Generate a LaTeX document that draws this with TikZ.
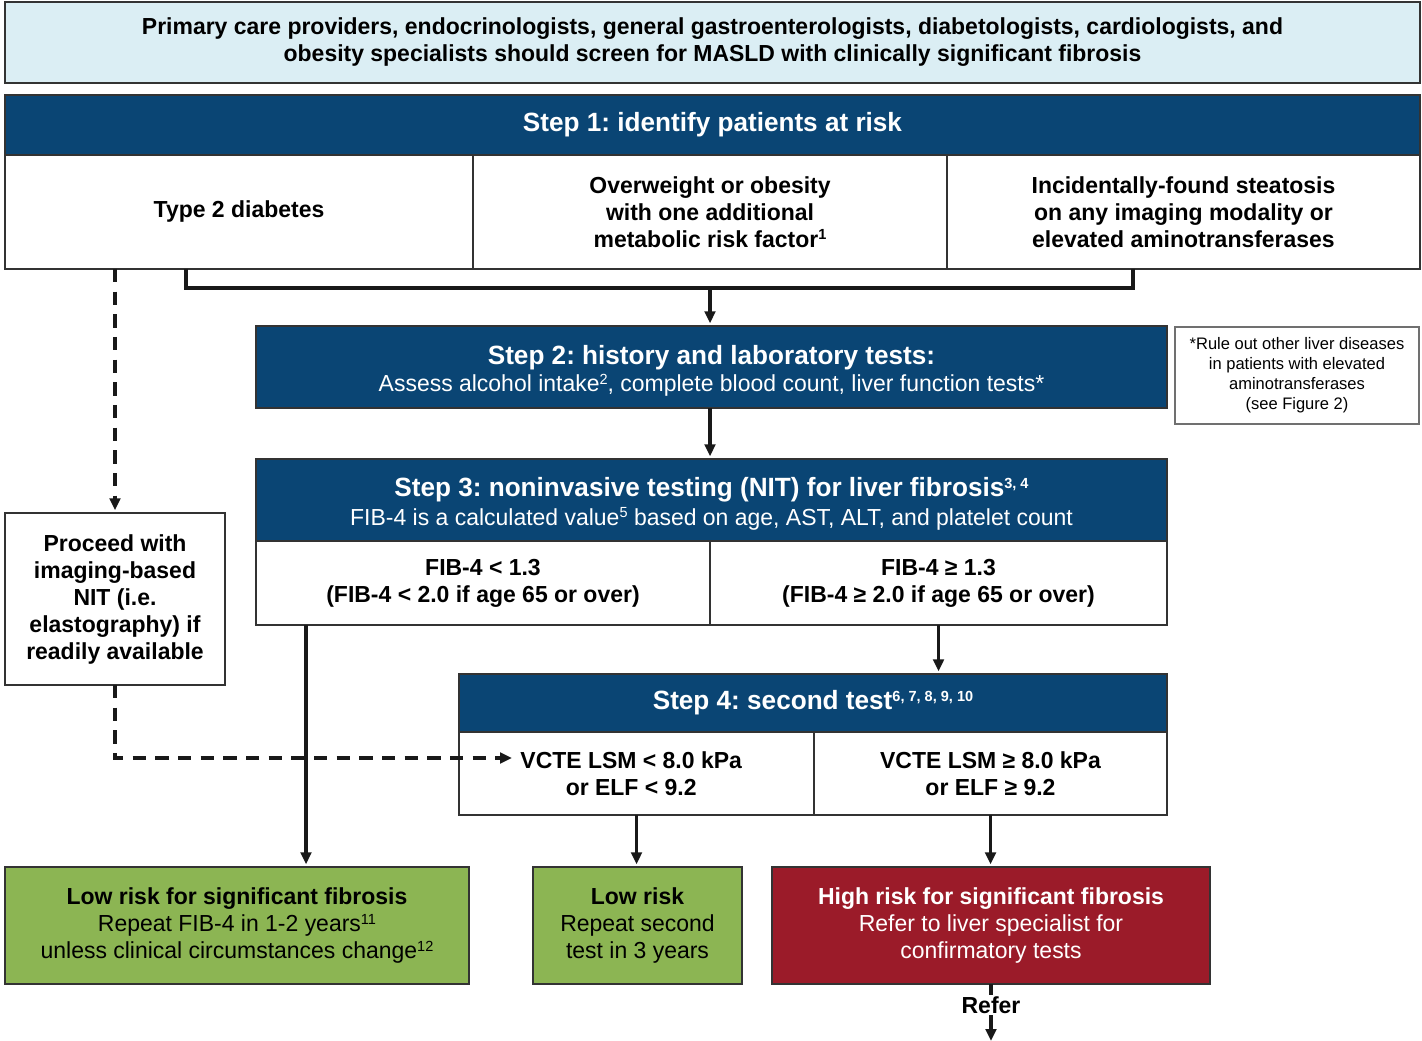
\documentclass[tikz,border=0pt]{standalone}
\usepackage{fontspec}
\setmainfont{Liberation Sans}[FakeStretch=0.99]
\usetikzlibrary{arrows.meta,calc}
\definecolor{hdrblue}{HTML}{0A4574}
\definecolor{banblue}{HTML}{DBEEF4}
\definecolor{lowgreen}{HTML}{8CB553}
\definecolor{highred}{HTML}{9B1B29}
\definecolor{bord}{HTML}{333333}
\newcommand\fsBody{\fontsize{17.4}{20.25}\selectfont}
\newcommand\fsTitleA{\fontsize{19.8}{24}\selectfont}
\newcommand\fsTitleB{\fontsize{19.8}{21}\selectfont}
\newcommand\fsNote{\fontsize{12.5}{15}\selectfont}
\newcommand\sups[1]{\raisebox{0.6ex}{\fontsize{11}{11}\selectfont #1}}
\newcommand\bx[7]{\node[#6, minimum width={(#4-#2)*0.75pt}, minimum height={(#5-#3)*0.75pt}] (#1) at ({(#2+#4)/2},{(#3+#5)/2}) {#7};}
\frenchspacing
\begin{document}
\begin{tikzpicture}[x=0.75pt,y=-0.75pt,
  box/.style={draw=bord, line width=1.4pt, inner sep=0pt, outer sep=0pt, align=center, text=black, font=\fsBody\frenchspacing},
  hdrbox/.style={box, fill=hdrblue, text=white},
  conn/.style={line width=2.4pt, draw=black!90},
  arr/.style={conn, -{Triangle[length=9pt,width=8pt]}, shorten >=2pt},
  dashconn/.style={conn, dash pattern=on 10pt off 7pt},
  dasharr/.style={dashconn, -{Triangle[length=9pt,width=8pt]}, shorten >=2pt},
]
\useasboundingbox (0,0) rectangle (1422,1041);

\bx{ban}{5}{2}{1420}{83}{box, fill=banblue}{\bfseries Primary care providers, endocrinologists, general gastroenterologists, diabetologists, cardiologists, and\\\bfseries obesity specialists should screen for MASLD with clinically significant fibrosis}

\bx{s1}{5}{95}{1420}{155}{hdrbox}{\fsTitleA\bfseries Step 1: identify patients at risk}
\bx{c1a}{5}{155}{473}{269}{box}{\bfseries Type 2 diabetes}
\bx{c1b}{473}{155}{947}{269}{box}{\bfseries Overweight or obesity\\\bfseries with one additional\\\bfseries metabolic risk factor\sups{1}}
\bx{c1c}{947}{155}{1420}{269}{box}{\bfseries Incidentally-found steatosis\\\bfseries on any imaging modality or\\\bfseries elevated aminotransferases}

\bx{s2}{256}{326}{1167}{408}{hdrbox}{{\fsTitleB\bfseries\rule{0pt}{20pt}Step 2: history and laboratory tests:}\\[0pt]Assess alcohol intake\sups{2}, complete blood count, liver function tests*}
\bx{note}{1175}{327}{1419}{424}{box, draw=bord!70, line width=1pt, font=\fsNote}{*Rule out other liver diseases\\in patients with elevated\\aminotransferases\\(see Figure 2)}

\bx{s3}{256}{459}{1167}{541}{hdrbox}{{\fsTitleB\bfseries\rule{0pt}{20pt}Step 3: noninvasive testing (NIT) for liver fibrosis\sups{3, 4}}\\[1pt]FIB-4 is a calculated value\sups{5} based on age, AST, ALT, and platelet count}
\bx{c3l}{256}{541}{710}{625}{box}{\bfseries FIB-4 < 1.3\\\bfseries (FIB-4 < 2.0 if age 65 or over)}
\bx{c3r}{710}{541}{1167}{625}{box}{\bfseries FIB-4 ≥ 1.3\\\bfseries (FIB-4 ≥ 2.0 if age 65 or over)}

\bx{proc}{5}{513}{225}{685}{box}{\bfseries Proceed with\\\bfseries imaging-based\\\bfseries NIT (i.e.\\\bfseries elastography) if\\\bfseries readily available}

\bx{s4}{459}{674}{1167}{732}{hdrbox}{\fsTitleB\bfseries Step 4: second test\sups{6, 7, 8, 9, 10}}
\bx{c4l}{459}{732}{814}{815}{box}{\bfseries VCTE LSM < 8.0 kPa\hspace*{8pt}\\\bfseries or ELF < 9.2\hspace*{8pt}}
\bx{c4r}{814}{732}{1167}{815}{box}{\bfseries VCTE LSM ≥ 8.0 kPa\\\bfseries or ELF ≥ 9.2}

\bx{lowA}{5}{867}{469}{984}{box, fill=lowgreen}{\bfseries Low risk for significant fibrosis\\Repeat FIB-4 in 1-2 years\sups{11}\\unless clinical circumstances change\sups{12}}
\bx{lowB}{533}{867}{742}{984}{box, fill=lowgreen}{\bfseries Low risk\\Repeat second\\test in 3 years}
\bx{high}{772}{867}{1210}{984}{box, fill=highred, text=white}{\bfseries High risk for significant fibrosis\\Refer to liver specialist for\\confirmatory tests}
\node[font=\fsBody\bfseries, inner sep=1pt] (refer) at (991,1005) {Refer};

% connectors
\coordinate (bL) at (186,269);
\coordinate (bR) at (1133,269);
\coordinate (bM) at (710,288);
\draw[conn] (bL) |- (bM) -| (bR);
\draw[arr] (bM) -- (bM |- s2.north);
\draw[arr] (s2.south -| bM) -- (s3.north -| bM);
\draw[dasharr] (c1a.south -| proc.north) -- (proc.north);
\coordinate (tip) at (512,758);
\draw[dasharr, shorten >=0pt] (proc.south) |- (tip);
\coordinate (fl) at (306,625);
\draw[arr] (fl) -- (fl |- lowA.north);
\draw[arr] (c3r.south) -- (c3r.south |- s4.north);
\draw[arr] (c4l.south) -- (c4l.south |- lowB.north);
\draw[arr] (c4r.south) -- (c4r.south |- high.north);
\coordinate (bot) at (991,1041);
\draw[conn] (high.south) -- (refer.north);
\draw[arr, shorten >=0pt] (refer.south) -- (bot);
\end{tikzpicture}
\end{document}
